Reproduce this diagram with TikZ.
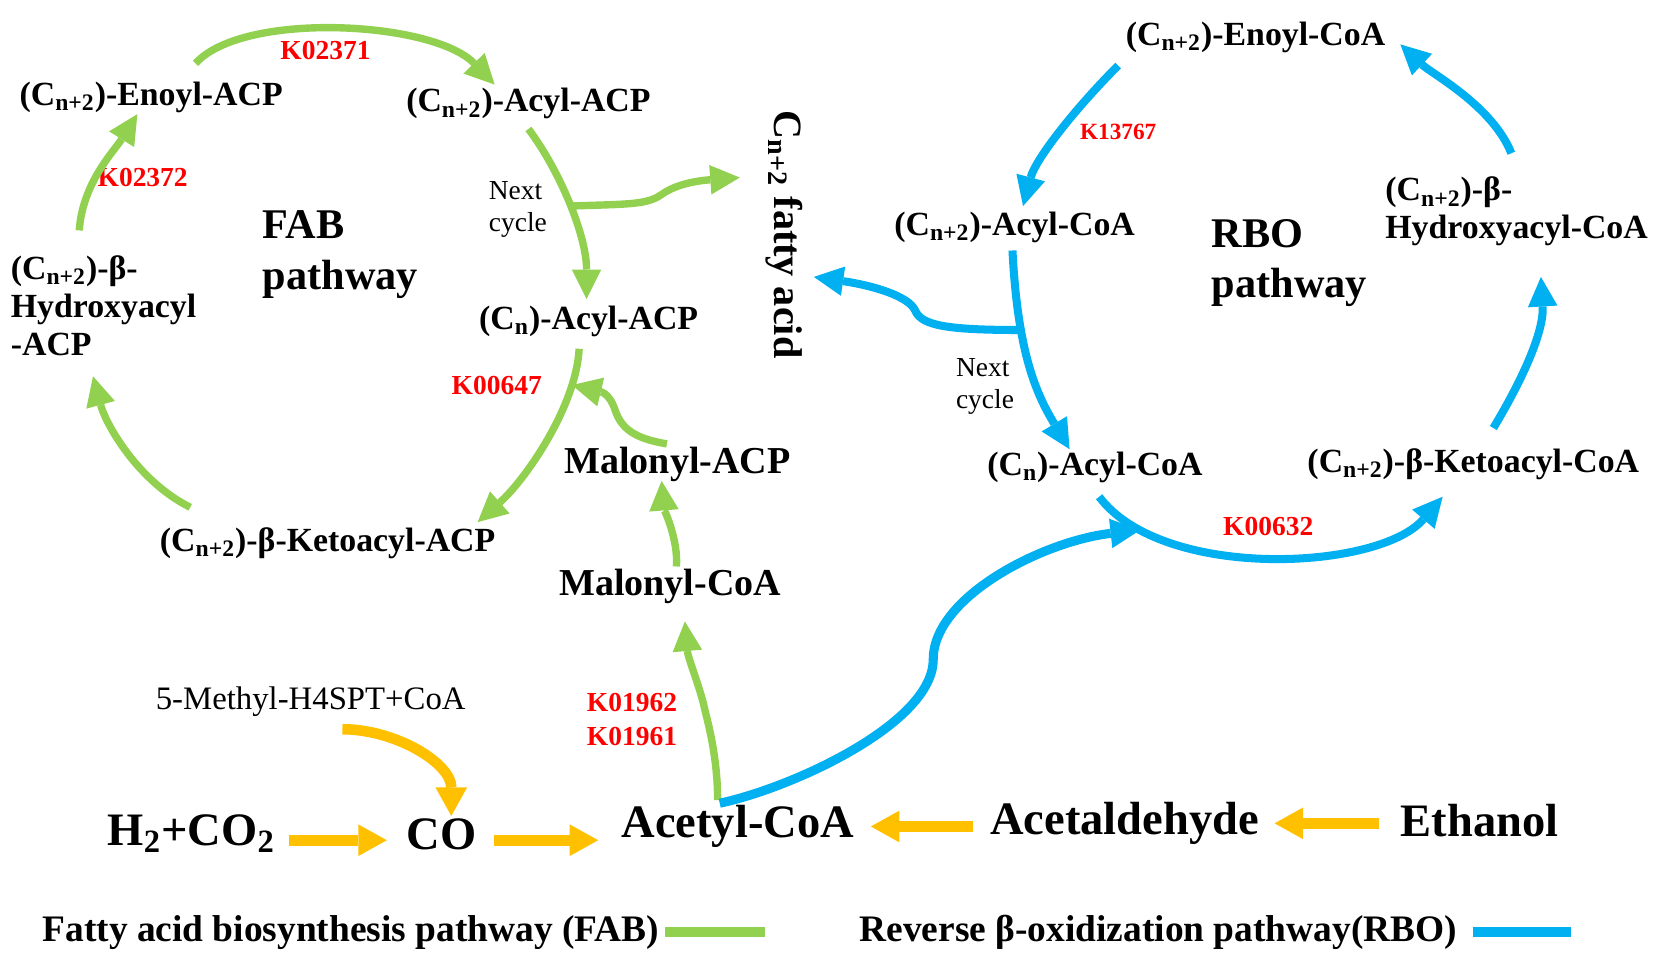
\documentclass[tikz,border=0pt]{standalone}
\usepackage{fontspec}
\setmainfont{Liberation Serif}
\usetikzlibrary{arrows.meta}

\definecolor{fabgreen}{RGB}{146,208,80}
\definecolor{rboblue}{RGB}{0,176,240}
\definecolor{feedorange}{RGB}{255,192,0}
\definecolor{keggred}{RGB}{255,0,0}

\newcommand{\cnplus}{(C\textsubscript{n+2})}
\newcommand{\cnonly}{(C\textsubscript{n})}

\begin{document}
\begin{tikzpicture}[x=0.5pt,y=-0.5pt,inner sep=0pt,
                    >={Triangle[length=14pt,width=14pt,line width=0pt]},
                    chem node/.style={font=\bfseries\fontsize{16}{18}\selectfont},
                    malonyl node/.style={font=\bfseries\fontsize{18}{20}\selectfont},
                    big node/.style={font=\bfseries\fontsize{22}{24}\selectfont},
                    path label/.style={align=left,font=\bfseries\fontsize{20}{24}\selectfont},
                    kegg label/.style={text=keggred,align=center,font=\bfseries\fontsize{13}{16}\selectfont},
                    note node/.style={align=left,font=\fontsize{13}{15}\selectfont},
                    legend node/.style={font=\bfseries\fontsize{17.7}{20}\selectfont},
                    fab arrow/.style={->,draw=fabgreen,line width=3.5pt},
                    rbo arrow/.style={->,draw=rboblue,line width=3.8pt},
                    feed arrow/.style={>={Triangle[length=13.5pt,width=15pt,line width=0pt]},->,draw=feedorange,line width=5pt}]
\useasboundingbox (0,0) rectangle (1565,906);

% Create nodes for the FAB cycle
\node[chem node] (enoylacp) at (143,92) {\cnplus-Enoyl-ACP};
\node[chem node] (acylacpp) at (500,98) {\cnplus-Acyl-ACP};
\node[chem node,align=left] (hydroxyacp) at (98,289) {\cnplus-β-\\Hydroxyacyl\\-ACP};
\node[chem node] (ketoacp) at (310,514) {\cnplus-β-Ketoacyl-ACP};
\node[chem node] (acylacpn) at (557,304) {\cnonly-Acyl-ACP};
\node[path label] (fablabel) at (322,241) {FAB\\pathway};
\node[note node] (fabnext) at (490,198) {Next\\cycle};
\node[font=\bfseries\fontsize{19}{24}\selectfont,rotate=-90] (fatty) at (742,222) {C\textsubscript{n+2} fatty acid};
\node[malonyl node] (malacp) at (641,439) {Malonyl-ACP};
\node[malonyl node] (malcoa) at (634,555) {Malonyl-CoA};

% Create nodes for the RBO cycle
\node[chem node] (enoylcoa) at (1188,35) {\cnplus-Enoyl-CoA};
\node[chem node] (acylcoap) at (960,215) {\cnplus-Acyl-CoA};
\node[chem node,align=left] (hydroxycoa) at (1435,200) {\cnplus-β-\\Hydroxyacyl-CoA};
\node[chem node] (ketocoa) at (1394,439) {\cnplus-β-Ketoacyl-CoA};
\node[chem node] (acylcoan) at (1036,442) {\cnonly-Acyl-CoA};
\node[path label] (rbolabel) at (1220,249) {RBO\\pathway};
\node[note node] (rbonext) at (932,366) {Next\\cycle};

% Create nodes for the feed line
\node[font=\fontsize{15.5}{18}\selectfont] (methyl) at (294,664) {5-Methyl-H4SPT+CoA};
\node[big node] (h2co2) at (181,789) {H\textsubscript{2}+CO\textsubscript{2}};
\node[big node] (co) at (418,789) {CO};
\node[big node] (acetyl) at (698,782) {Acetyl-CoA};
\node[big node] (acetald) at (1064,779) {Acetaldehyde};
\node[big node] (ethanol) at (1400,776) {Ethanol};

% Enzyme labels
\node[kegg label] (k02371) at (308,48) {K02371};
\node[kegg label] (k02372) at (135,168) {K02372};
\node[kegg label] (k00647) at (470,365) {K00647};
\node[kegg label] (k0196x) at (598,681) {K01962\\K01961};
\node[kegg label,font=\bfseries\fontsize{11}{13}\selectfont] (k13767) at (1058,125) {K13767};
\node[kegg label] (k00632) at (1200,498) {K00632};

% Create edges for the FAB cycle
\draw[fab arrow] ([shift={(42,-32)}]enoylacp.center) .. controls +(45,-50) and +(-58,-60) .. ([shift={(-32,-18)}]acylacpp.center);
\draw[fab arrow] ([shift={(-23,-71)}]hydroxyacp.center) .. controls +(3,-45) and +(-22,35) .. ([shift={(-13,16)}]enoylacp.center);
\draw[fab arrow] ([shift={(-130,-34)}]ketoacp.center) .. controls +(-50,-25) and +(12,45) .. ([shift={(-10,67)}]hydroxyacp.center);
\draw[fab arrow] ([shift={(-9,26)}]acylacpn.center) .. controls +(-3,55) and +(45,-40) .. coordinate[pos=0.2] (fabjoin) ([shift={(142,-20)}]ketoacp.center);
\draw[fab arrow] ([shift={(0,24)}]acylacpp.center) .. controls +(30,40) and +(0,-60) .. coordinate[pos=0.5] (fabsplit) ([shift={(-2,-21)}]acylacpn.center);
\coordinate (fabbump) at (626,184);
\draw[fab arrow] (fabsplit) .. controls +(55,-2) and +(-14,10) .. (fabbump)
  .. controls +(14,-10) and +(-40,3) .. ([shift={(-42,-54)}]fatty.center);
\coordinate (fabwave) at (582,388);
\draw[fab arrow] ([shift={(-10,-19)}]malacp.center) .. controls +(-30,-5) and +(6,18) .. (fabwave)
  .. controls +(-6,-18) and +(25,6) .. (fabjoin);
\draw[fab arrow] ([shift={(6,-19)}]malcoa.center) .. controls +(2,-25) and +(2,25) .. ([shift={(-15,16)}]malacp.center);
\coordinate (fabkink) at (667,672);
\draw[fab arrow] ([shift={(-19,-25)}]acetyl.center) .. controls +(0,-40) and +(3,12) .. (fabkink)
  .. controls +(-4,-20) and +(3,35) .. ([shift={(14,33)}]malcoa.center);

% Create edges for the RBO cycle
\draw[rbo arrow] ([shift={(-130,27)}]enoylcoa.center) .. controls +(-40,40) and +(12,-45) .. ([shift={(8,-20)}]acylcoap.center);
\draw[rbo arrow] ([shift={(-5,-55)}]hydroxycoa.center) .. controls +(-18,-45) and +(30,28) .. ([shift={(137,7)}]enoylcoa.center);
\draw[rbo arrow] ([shift={(19,-34)}]ketocoa.center) .. controls +(30,-50) and +(3,50) .. ([shift={(23,62)}]hydroxycoa.center);
\draw[rbo arrow] ([shift={(4,28)}]acylcoan.center) .. controls +(60,80) and +(-60,70) .. coordinate[pos=0.16] (rbojoin) ([shift={(-29,31)}]ketocoa.center);
\draw[rbo arrow] ([shift={(-2,22)}]acylcoap.center) .. controls +(5,100) and +(-30,-50) .. coordinate[pos=0.3] (rbosplit) ([shift={(-24,-17)}]acylcoan.center);
\coordinate (rbobump) at (866,294);
\draw[rbo arrow] (rbosplit) .. controls +(-70,0) and +(6,14) .. (rbobump)
  .. controls +(-6,-14) and +(55,8) .. ([shift={(28,40)}]fatty.center);
\coordinate (rbobend) at (883,624);
\draw[rbo arrow,line width=4.3pt] ([shift={(-17,-22)}]acetyl.center) .. controls +(70,-15) and +(0,60) .. (rbobend)
  .. controls +(0,-60) and +(-90,10) .. (rbojoin);

% Create edges for the feed line
\draw[feed arrow] ([shift={(92,6)}]h2co2.center) -- ([shift={(-52,6)}]co.center);
\draw[feed arrow] ([shift={(49,6)}]co.center) -- ([shift={(-132,13)}]acetyl.center);
\draw[feed arrow] ([shift={(-143,3)}]acetald.center) -- ([shift={(126,0)}]acetyl.center);
\draw[feed arrow] ([shift={(-95,3)}]ethanol.center) -- ([shift={(142,0)}]acetald.center);
\draw[feed arrow] ([shift={(30,26)}]methyl.center) .. controls +(50,0) and +(0,-50) .. ([shift={(9,-17)}]co.center);

% Legend
\node[legend node] (legfab) at (332,882) {Fatty acid biosynthesis pathway (FAB)};
\node[legend node] (legrbo) at (1096,882) {Reverse β-oxidization pathway(RBO)};
\draw[fabgreen,line width=5pt] ([xshift=2.5pt]legfab.east) -- ++(95,0);
\draw[rboblue,line width=5pt] ([xshift=7.5pt]legrbo.east) -- ++(92,0);
\end{tikzpicture}
\end{document}
